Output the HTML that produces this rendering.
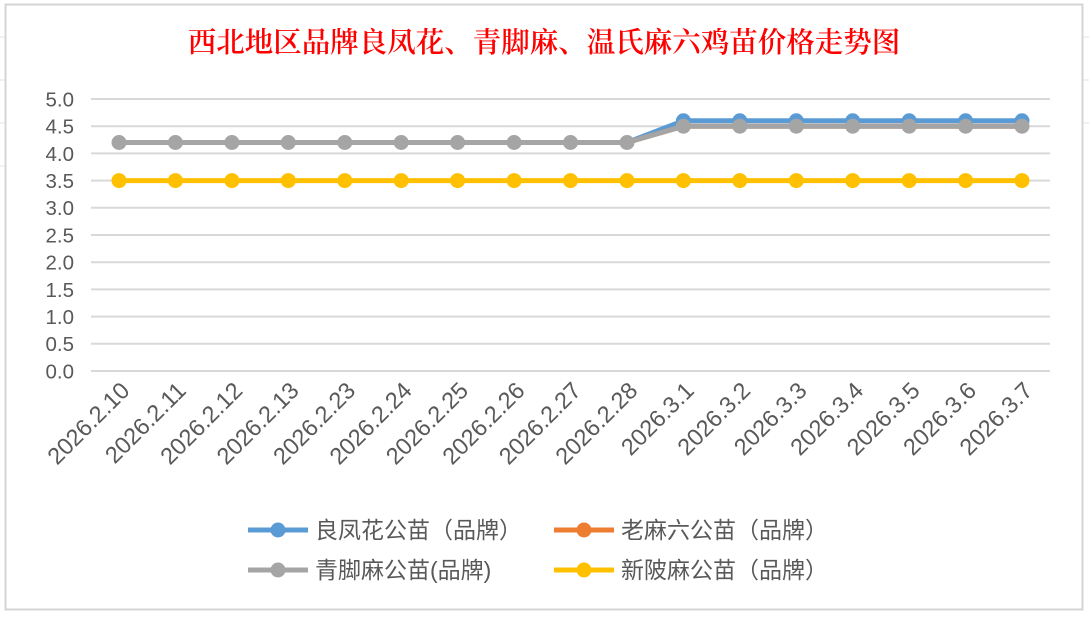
<!DOCTYPE html>
<html><head><meta charset="utf-8"><style>
body{margin:0;background:#fff;width:1089px;height:615px;overflow:hidden}
</style></head><body>
<svg width="1089" height="615" xmlns="http://www.w3.org/2000/svg" font-family="Liberation Sans, Noto Sans CJK SC, sans-serif">
<rect x="0" y="0" width="1089" height="615" fill="#fff"/>
<g stroke="#e3e3e3" stroke-width="1">
<line x1="0" y1="37" x2="5" y2="37"/><line x1="0" y1="80" x2="5" y2="80"/><line x1="0" y1="123" x2="5" y2="123"/><line x1="0" y1="166" x2="5" y2="166"/>
<line x1="1083" y1="37" x2="1089" y2="37"/><line x1="1083" y1="80" x2="1089" y2="80"/><line x1="1083" y1="123" x2="1089" y2="123"/>
</g>
<rect x="5.5" y="4.5" width="1077" height="605" fill="#fff" stroke="#d4d4d4" stroke-width="2"/>
<text x="544" y="52" text-anchor="middle" font-family="Noto Serif CJK SC, Liberation Serif, serif" font-size="28.5" font-weight="600" fill="#ff0000">西北地区品牌良凤花、青脚麻、温氏麻六鸡苗价格走势图</text>
<g stroke="#d9d9d9" stroke-width="2">
<line x1="91" y1="99" x2="1050" y2="99"/><line x1="91" y1="126.2" x2="1050" y2="126.2"/><line x1="91" y1="153.4" x2="1050" y2="153.4"/><line x1="91" y1="180.6" x2="1050" y2="180.6"/><line x1="91" y1="207.8" x2="1050" y2="207.8"/><line x1="91" y1="235" x2="1050" y2="235"/><line x1="91" y1="262.2" x2="1050" y2="262.2"/><line x1="91" y1="289.4" x2="1050" y2="289.4"/><line x1="91" y1="316.6" x2="1050" y2="316.6"/><line x1="91" y1="343.8" x2="1050" y2="343.8"/><line x1="91" y1="371" x2="1050" y2="371"/>
</g>
<g font-size="20.5" fill="#595959" text-anchor="end">
<text x="74" y="106.5">5.0</text><text x="74" y="133.5">4.5</text><text x="74" y="161">4.0</text><text x="74" y="188">3.5</text><text x="74" y="215">3.0</text><text x="74" y="242.5">2.5</text><text x="74" y="269.5">2.0</text><text x="74" y="297">1.5</text><text x="74" y="324">1.0</text><text x="74" y="351">0.5</text><text x="74" y="378.5">0.0</text>
</g>
<g stroke-width="5" fill="none" stroke-linejoin="round">
<polyline stroke="#5b9bd5" points="119,142.5 627,142.5 683.4,120.8 1022,120.8"/>
<polyline stroke="#ed7d31" points="119,142.5 627,142.5 683.4,126.2 1022,126.2"/>
<polyline stroke="#a5a5a5" points="119,142.5 627,142.5 683.4,126.2 1022,126.2"/>
<polyline stroke="#ffc000" points="119,180.6 1022,180.6"/>
</g>
<g fill="#5b9bd5"><circle cx="683.4" cy="120.8" r="7.5"/><circle cx="739.8" cy="120.8" r="7.5"/><circle cx="796.3" cy="120.8" r="7.5"/><circle cx="852.7" cy="120.8" r="7.5"/><circle cx="909.2" cy="120.8" r="7.5"/><circle cx="965.6" cy="120.8" r="7.5"/><circle cx="1022" cy="120.8" r="7.5"/></g>
<g fill="#a5a5a5"><circle cx="119" cy="142.5" r="7.5"/><circle cx="175.4" cy="142.5" r="7.5"/><circle cx="231.9" cy="142.5" r="7.5"/><circle cx="288.3" cy="142.5" r="7.5"/><circle cx="344.8" cy="142.5" r="7.5"/><circle cx="401.2" cy="142.5" r="7.5"/><circle cx="457.6" cy="142.5" r="7.5"/><circle cx="514.1" cy="142.5" r="7.5"/><circle cx="570.5" cy="142.5" r="7.5"/><circle cx="627" cy="142.5" r="7.5"/><circle cx="683.4" cy="126.2" r="7.5"/><circle cx="739.8" cy="126.2" r="7.5"/><circle cx="796.3" cy="126.2" r="7.5"/><circle cx="852.7" cy="126.2" r="7.5"/><circle cx="909.2" cy="126.2" r="7.5"/><circle cx="965.6" cy="126.2" r="7.5"/><circle cx="1022" cy="126.2" r="7.5"/></g>
<g fill="#ffc000"><circle cx="119" cy="180.6" r="7.5"/><circle cx="175.4" cy="180.6" r="7.5"/><circle cx="231.9" cy="180.6" r="7.5"/><circle cx="288.3" cy="180.6" r="7.5"/><circle cx="344.8" cy="180.6" r="7.5"/><circle cx="401.2" cy="180.6" r="7.5"/><circle cx="457.6" cy="180.6" r="7.5"/><circle cx="514.1" cy="180.6" r="7.5"/><circle cx="570.5" cy="180.6" r="7.5"/><circle cx="627" cy="180.6" r="7.5"/><circle cx="683.4" cy="180.6" r="7.5"/><circle cx="739.8" cy="180.6" r="7.5"/><circle cx="796.3" cy="180.6" r="7.5"/><circle cx="852.7" cy="180.6" r="7.5"/><circle cx="909.2" cy="180.6" r="7.5"/><circle cx="965.6" cy="180.6" r="7.5"/><circle cx="1022" cy="180.6" r="7.5"/></g>
<g font-size="23.5" fill="#595959" text-anchor="end">
<text transform="translate(131,392) rotate(-45)">2026.2.10</text>
<text transform="translate(187.4,392) rotate(-45)">2026.2.11</text>
<text transform="translate(243.9,392) rotate(-45)">2026.2.12</text>
<text transform="translate(300.3,392) rotate(-45)">2026.2.13</text>
<text transform="translate(356.8,392) rotate(-45)">2026.2.23</text>
<text transform="translate(413.2,392) rotate(-45)">2026.2.24</text>
<text transform="translate(469.6,392) rotate(-45)">2026.2.25</text>
<text transform="translate(526.1,392) rotate(-45)">2026.2.26</text>
<text transform="translate(582.5,392) rotate(-45)">2026.2.27</text>
<text transform="translate(639,392) rotate(-45)">2026.2.28</text>
<text transform="translate(695.4,392) rotate(-45)">2026.3.1</text>
<text transform="translate(751.8,392) rotate(-45)">2026.3.2</text>
<text transform="translate(808.3,392) rotate(-45)">2026.3.3</text>
<text transform="translate(864.7,392) rotate(-45)">2026.3.4</text>
<text transform="translate(921.2,392) rotate(-45)">2026.3.5</text>
<text transform="translate(977.6,392) rotate(-45)">2026.3.6</text>
<text transform="translate(1034,392) rotate(-45)">2026.3.7</text>
</g>
<g stroke-width="5">
<line x1="248" y1="530" x2="308" y2="530" stroke="#5b9bd5"/><circle cx="278" cy="530" r="7.5" fill="#5b9bd5"/>
<line x1="554" y1="530" x2="614" y2="530" stroke="#ed7d31"/><circle cx="584" cy="530" r="7.5" fill="#ed7d31"/>
<line x1="248" y1="570" x2="308" y2="570" stroke="#a5a5a5"/><circle cx="278" cy="570" r="7.5" fill="#a5a5a5"/>
<line x1="554" y1="570" x2="614" y2="570" stroke="#ffc000"/><circle cx="584" cy="570" r="7.5" fill="#ffc000"/>
</g>
<g font-size="23" fill="#595959">
<text x="315" y="538">良凤花公苗（品牌）</text>
<text x="621" y="538">老麻六公苗（品牌）</text>
<text x="315" y="578">青脚麻公苗(品牌)</text>
<text x="621" y="578">新陂麻公苗（品牌）</text>
</g>
</svg>
</body></html>
